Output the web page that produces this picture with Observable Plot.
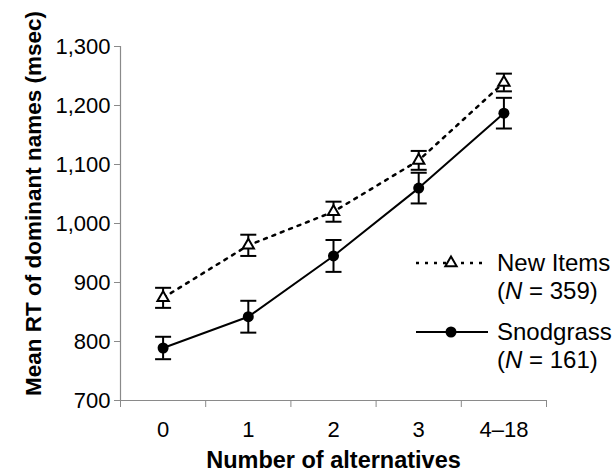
<!DOCTYPE html>
<html>
<head>
<meta charset="utf-8">
<script src="https://cdn.jsdelivr.net/npm/d3@7"></script>
<script src="https://cdn.jsdelivr.net/npm/@observablehq/plot@0.6"></script>
<style>
  html, body { margin: 0; padding: 0; background: #fff; }
</style>
</head>
<body>
<div id="chart"></div>
<script>
const categories = ["0", "1", "2", "3", "4\u201318"];
const newItemsMean = [874, 963, 1020, 1107, 1239];
const newItemsErr = [17, 18, 17, 16, 15];
const snodgrassMean = [789, 842, 945, 1060, 1187];
const snodgrassErr = [19, 27, 27, 26, 26];
const yTicks = [700, 800, 900, 1000, 1100, 1200, 1300];
const seriesNames = ["New Items", "Snodgrass"];
const seriesN = [359, 161];
const xTitle = "Number of alternatives";
const yTitle = "Mean RT of dominant names (msec)";

const newItems = categories.map((c, i) => ({i, c, v: newItemsMean[i], e: newItemsErr[i]}));
const snod = categories.map((c, i) => ({i, c, v: snodgrassMean[i], e: snodgrassErr[i]}));
const idx = categories.map((c, i) => i);
const bounds = [...idx.map(i => i - 0.5), categories.length - 0.5];
const cap = 0.094;
const font = "'Liberation Sans', Arial, Helvetica, sans-serif";
const axisColor = "#8a8a8a";

function errorMarks(data) {
  return [
    Plot.ruleX(data, {x: "i", y1: d => d.v - d.e, y2: d => d.v + d.e, stroke: "black", strokeWidth: 2}),
    Plot.link(data, {x1: d => d.i - cap, x2: d => d.i + cap, y1: d => d.v + d.e, y2: d => d.v + d.e, stroke: "black", strokeWidth: 2}),
    Plot.link(data, {x1: d => d.i - cap, x2: d => d.i + cap, y1: d => d.v - d.e, y2: d => d.v - d.e, stroke: "black", strokeWidth: 2})
  ];
}

const chart = Plot.plot({
  width: 615,
  height: 474,
  marginLeft: 120,
  marginRight: 69,
  marginTop: 46,
  marginBottom: 74,
  style: {fontFamily: font, fontSize: "22px", color: "black", background: "white"},
  x: {type: "linear", domain: [-0.5, categories.length - 0.5]},
  y: {domain: [700, 1300]},
  marks: [
    Plot.ruleY([700], {stroke: axisColor, strokeWidth: 1.2}),
    Plot.ruleX([-0.5], {stroke: axisColor, strokeWidth: 1.2}),
    Plot.axisY({ticks: yTicks, tickFormat: d3.format(","), tickSize: 6, tickPadding: 4, stroke: axisColor, label: null}),
    Plot.axisX({ticks: bounds, tickFormat: () => "", tickSize: 7, stroke: axisColor, label: null}),
    Plot.axisX({ticks: idx, tickFormat: i => categories[i], tickSize: 0, tickPadding: 21, label: null}),
    Plot.text([xTitle], {frameAnchor: "bottom", dy: 60, textAnchor: "middle", lineAnchor: "middle", fontWeight: "bold", fontSize: 23.5}),
    Plot.text([yTitle], {frameAnchor: "left", dx: -87, dy: -20, rotate: -90, textAnchor: "middle", lineAnchor: "middle", fontWeight: "bold", fontSize: 22.5}),
    ...errorMarks(newItems),
    ...errorMarks(snod),
    Plot.line(newItems, {x: "i", y: "v", stroke: "black", strokeWidth: 2.5, strokeDasharray: "3,6"}),
    Plot.line(snod, {x: "i", y: "v", stroke: "black", strokeWidth: 2}),
    Plot.dot(newItems, {x: "i", y: "v", symbol: "triangle", r: 4.2, fill: "white", stroke: "black", strokeWidth: 2}),
    Plot.dot(snod, {x: "i", y: "v", r: 5.5, fill: "black", stroke: "none"})
  ]
});

// Legend (inside plot area, right side)
const svg = d3.select(chart);
const leg = svg.append("g").attr("font-family", font).attr("font-size", 24)
  .attr("fill", "black").attr("text-anchor", "start");
const rows = [
  {y: 263, dash: "3,6", sw: 2.5, sym: "triangle"},
  {y: 332, dash: null, sw: 2, sym: "circle"}
];
rows.forEach((r, k) => {
  const ln = leg.append("line").attr("x1", 416).attr("x2", 488).attr("y1", r.y).attr("y2", r.y)
    .attr("stroke", "black").attr("stroke-width", r.sw);
  if (r.dash) ln.attr("stroke-dasharray", r.dash);
  if (r.sym === "triangle") {
    leg.append("path").attr("d", d3.symbol(d3.symbolTriangle, Math.PI * 4.2 * 4.2)())
      .attr("transform", `translate(451,${r.y})`).attr("fill", "white").attr("stroke", "black").attr("stroke-width", 2);
  } else {
    leg.append("circle").attr("cx", 451).attr("cy", r.y).attr("r", 5.5).attr("fill", "black");
  }
  leg.append("text").attr("x", 497).attr("y", r.y + 8).text(seriesNames[k]);
  const t2 = leg.append("text").attr("x", 497).attr("y", r.y + 36);
  t2.append("tspan").text("(");
  t2.append("tspan").attr("font-style", "italic").text("N");
  t2.append("tspan").text(" = " + seriesN[k] + ")");
});

document.getElementById("chart").appendChild(chart);
</script>
</body>
</html>
